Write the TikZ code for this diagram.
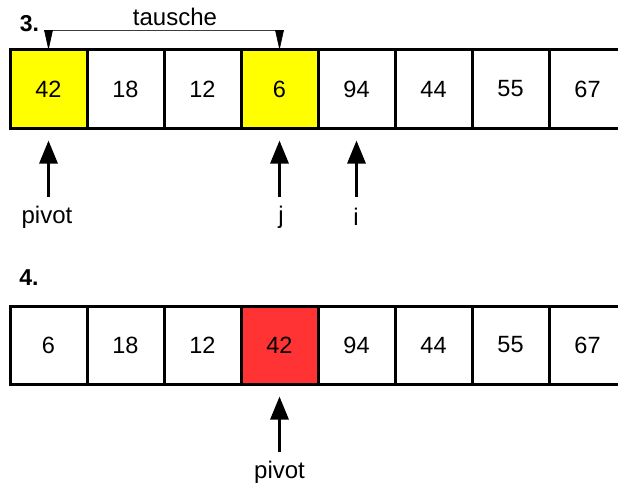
\documentclass[tikz,border=0pt]{standalone}
\usepackage{fontspec}
\setmainfont{Liberation Sans}
\usetikzlibrary{arrows.meta}
\definecolor{cellyellow}{RGB}{255,255,0}
\definecolor{cellred}{RGB}{255,51,51}
\definecolor{swapgray}{RGB}{60,60,60}
\tikzset{
  cell/.style={draw=black, line width=3pt, minimum width=77pt, minimum height=78pt, inner sep=0pt, font=\fontsize{23.5}{27}\selectfont, fill=white},
  lbl/.style={inner sep=0pt, font=\fontsize{24}{28}\selectfont},
  steplbl/.style={inner sep=0pt, font=\fontsize{23}{27}\selectfont\bfseries},
  bigarrow/.style={line width=3pt, -{Triangle[width=18pt,length=23pt]}},
  swapline/.style={draw=swapgray, line width=1pt},
  swaptip/.style={draw=black, fill=black, line width=0.6pt}
}
\begin{document}
\begin{tikzpicture}[x=1pt,y=-1pt]
\clip (0,0) rectangle (618,487);
\fill[white] (0,0) rectangle (618,487);
% row 3
\node[steplbl] (s3) at (29.5,23.5) {3.};
\node[cell, fill=cellyellow] (a1) at (48.5,89) {42};
\node[cell] (a2) at (125.5,89) {18};
\node[cell] (a3) at (202.5,89) {12};
\node[cell, fill=cellyellow] (a4) at (279.5,89) {6};
\node[cell] (a5) at (356.5,89) {94};
\node[cell] (a6) at (433.5,89) {44};
\node[cell] (a7) at (510.5,89) {55};
\node[cell] (a8) at (587.5,89) {67};
\node[lbl] (tausche) at (175,17) {tausche};
\coordinate (c1) at ([yshift=18pt]a1.north);
\coordinate (c4) at ([yshift=18pt]a4.north);
\draw[swapline] (c1) -- (c4);
\filldraw[swaptip] (a1.north) -- ([xshift=-4pt]c1) -- ([xshift=4pt]c1) -- cycle;
\filldraw[swaptip] (a4.north) -- ([xshift=-4pt]c4) -- ([xshift=4pt]c4) -- cycle;
\node[lbl] (p1) at (47,217) {pivot};
\node[lbl] (j1) at (281,217) {j};
\node[lbl] (i1) at (356,217) {i};
\coordinate (tp) at (48.5,197);
\coordinate (tj) at (279.5,197);
\coordinate (ti) at (356.5,197);
\draw[bigarrow, shorten >=11pt] (tp) -- (a1.south);
\draw[bigarrow, shorten >=11pt] (tj) -- (a4.south);
\draw[bigarrow, shorten >=11pt] (ti) -- (a5.south);
% row 4
\node[steplbl] (s4) at (29,278) {4.};
\node[cell] (b1) at (48.5,345) {6};
\node[cell] (b2) at (125.5,345) {18};
\node[cell] (b3) at (202.5,345) {12};
\node[cell, fill=cellred] (b4) at (279.5,345) {42};
\node[cell] (b5) at (356.5,345) {94};
\node[cell] (b6) at (433.5,345) {44};
\node[cell] (b7) at (510.5,345) {55};
\node[cell] (b8) at (587.5,345) {67};
\node[lbl] (p2) at (279.5,472) {pivot};
\coordinate (tp2) at (279.5,452);
\draw[bigarrow, shorten >=11pt] (tp2) -- (b4.south);
\end{tikzpicture}
\end{document}
